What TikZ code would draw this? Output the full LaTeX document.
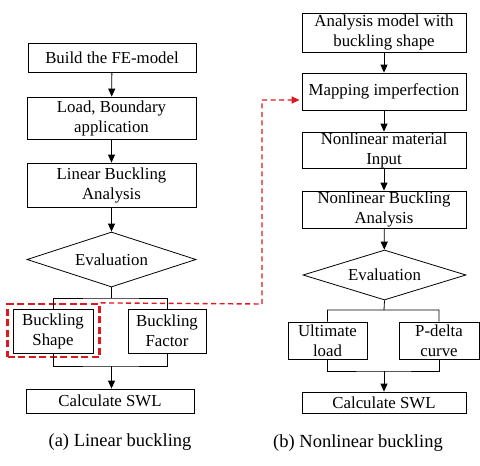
\documentclass[tikz,border=0pt]{standalone}
\usepackage{fontspec}
\setmainfont{Liberation Serif}
\usetikzlibrary{shapes.geometric,arrows.meta}
\definecolor{dred}{RGB}{222,24,30}
\tikzset{
  x=1pt,y=-1pt,
  box/.style={draw,line width=0.8pt,align=center,inner sep=0pt,font=\fontsize{16.8}{20}\selectfont},
  dia/.style={draw,line width=0.8pt,shape=diamond,aspect=3,inner sep=0pt,font=\fontsize{16.8}{20}\selectfont},
  flow/.style={line width=0.8pt,-{Triangle[length=8pt,width=7pt]}},
  link/.style={line width=0.8pt},
  captext/.style={font=\fontsize{18.5}{22}\selectfont},
  redbox/.style={draw=dred,line width=2.2pt,dash pattern=on 7pt off 3.5pt},
  redlink/.style={draw=dred,line width=1.4pt,dash pattern=on 5pt off 3.5pt,-{Triangle[length=8pt,width=7pt,fill=dred]}}
}
\begin{document}
\begin{tikzpicture}
\useasboundingbox (0,0) rectangle (480,466);
% left column
\node[box,minimum width=168pt,minimum height=29pt] (a1) at (112,57.5) {Build the FE-model};
\node[box,minimum width=169pt,minimum height=42pt] (a2) at (111.5,118) {Load, Boundary\\application};
\node[box,minimum width=169pt,minimum height=44pt] (a3) at (111.5,185) {Linear Buckling\\Analysis};
\node[dia,minimum width=169pt,minimum height=55pt] (ad) at (111.5,259.5) {Evaluation};
\node[box,minimum width=80pt,minimum height=44pt] (as) at (53,331) {Buckling\\Shape};
\node[box,minimum width=78pt,minimum height=44pt] (af) at (167,331) {Buckling\\Factor};
\node[box,minimum width=168pt,minimum height=24pt] (ac) at (110,401) {Calculate SWL};
\node[redbox,minimum width=92pt,minimum height=53pt] (ar) at (53.5,330.5) {};
\node[captext] (capa) at (120,442) {(a) Linear buckling};
\draw[flow] (a1) -- (a2);
\draw[flow] (a2) -- (a3);
\draw[flow] (a3) -- (ad);
\coordinate (aj) at (111.5,298);
\coordinate (ak) at (111.5,366);
\draw[link] (ad.south) -- (aj) (as.north) |- (aj) -| (af.north);
\draw[link] (as.south) |- (ak) -| (af.south);
\draw[flow] (ak) -- (ak |- ac.north);
% right column
\node[box,minimum width=164pt,minimum height=39pt] (b1) at (384,32.5) {Analysis model with\\buckling shape};
\node[box,minimum width=164pt,minimum height=37pt] (b2) at (384,91.5) {Mapping imperfection};
\node[box,minimum width=164pt,minimum height=36pt] (b3) at (384,150) {Nonlinear material\\Input};
\node[box,minimum width=164pt,minimum height=37pt] (b4) at (384,209.5) {Nonlinear Buckling\\Analysis};
\node[dia,minimum width=163pt,minimum height=50pt] (bd) at (384.5,275) {Evaluation};
\node[box,minimum width=79pt,minimum height=37pt] (bu) at (327.5,340.5) {Ultimate\\load};
\node[box,minimum width=80pt,minimum height=37pt] (bp) at (439,340.5) {P-delta\\curve};
\node[box,minimum width=164pt,minimum height=21pt] (bc) at (384,402.5) {Calculate SWL};
\node[captext] (capb) at (358,443) {(b) Nonlinear buckling};
\draw[flow] (b1) -- (b2);
\draw[flow] (b2) -- (b3);
\draw[flow] (b3) -- (b4);
\draw[flow] (b4) -- (bd);
\coordinate (bj) at (384,310);
\coordinate (bk) at (384,371);
\draw[link] (bd.south) -- (bj) (bu.north) |- (bj) -| (bp.north);
\draw[link] (bu.south) |- (bk) -| (bp.south);
\draw[flow] (bk) -- (bk |- bc.north);
% red connector
\coordinate (r1) at (262,304);
\coordinate (r2) at (262,100);
\draw[redlink] (ar.north east) -- (r1) -- (r2) -- ([xshift=-2pt]r2 -| b2.west);
\end{tikzpicture}
\end{document}
